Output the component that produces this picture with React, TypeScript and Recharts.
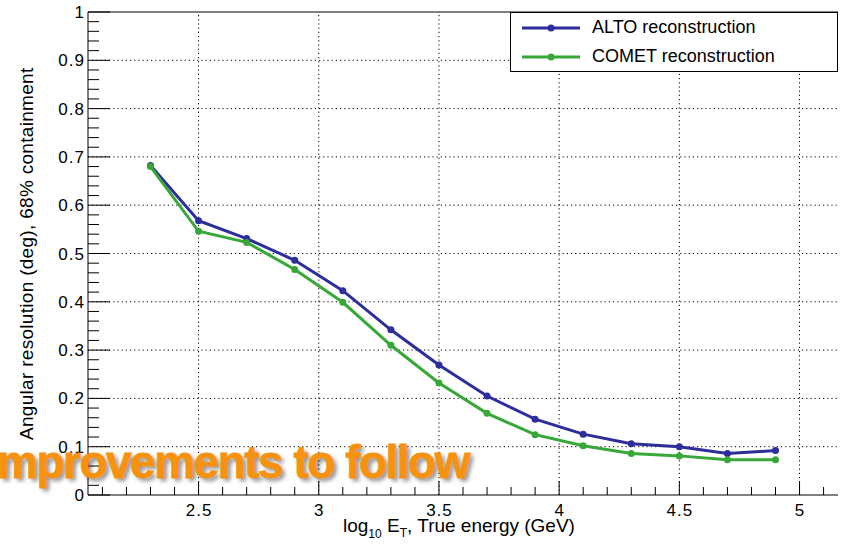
import { LineChart, Line, XAxis, YAxis, ReferenceLine } from "recharts";

// log10 of true energy (GeV)
const energies = [2.3, 2.5, 2.7, 2.9, 3.1, 3.3, 3.5, 3.7, 3.9, 4.1, 4.3, 4.5, 4.7, 4.9];
// 68% containment angular resolution (deg)
const alto = [0.682, 0.568, 0.531, 0.486, 0.423, 0.342, 0.269, 0.205, 0.157, 0.126, 0.106, 0.1, 0.086, 0.092];
const comet = [0.68, 0.546, 0.523, 0.467, 0.399, 0.31, 0.232, 0.169, 0.125, 0.102, 0.086, 0.081, 0.073, 0.073];

const xTicks = [
  2.1, 2.2, 2.3, 2.4, 2.5, 2.6, 2.7, 2.8, 2.9, 3, 3.1, 3.2, 3.3, 3.4, 3.5, 3.6,
  3.7, 3.8, 3.9, 4, 4.1, 4.2, 4.3, 4.4, 4.5, 4.6, 4.7, 4.8, 4.9, 5, 5.1,
];
const xMajor = [2.5, 3, 3.5, 4, 4.5, 5];
const yTicks = [
  0, 0.02, 0.04, 0.06, 0.08, 0.1, 0.12, 0.14, 0.16, 0.18, 0.2, 0.22, 0.24, 0.26,
  0.28, 0.3, 0.32, 0.34, 0.36, 0.38, 0.4, 0.42, 0.44, 0.46, 0.48, 0.5, 0.52,
  0.54, 0.56, 0.58, 0.6, 0.62, 0.64, 0.66, 0.68, 0.7, 0.72, 0.74, 0.76, 0.78,
  0.8, 0.82, 0.84, 0.86, 0.88, 0.9, 0.92, 0.94, 0.96, 0.98, 1,
];
const yMajor = [0, 0.1, 0.2, 0.3, 0.4, 0.5, 0.6, 0.7, 0.8, 0.9, 1];
const yGrid = [0.1, 0.2, 0.3, 0.4, 0.5, 0.6, 0.7, 0.8, 0.9];

const series = [
  { key: "alto", name: "ALTO reconstruction", color: "#2d2d9c" },
  { key: "comet", name: "COMET reconstruction", color: "#37a837" },
];

const data = energies.map((e, i) => ({ e, alto: alto[i], comet: comet[i] }));

const W = 844;
const H = 544;
const PLOT_LEFT = 88;
const PLOT_BOTTOM = 495;
const FONT = '"Liberation Sans", Arial, Helvetica, sans-serif';

function XTick(props: any) {
  const { x, payload } = props;
  const major = xMajor.includes(payload.value);
  return (
    <g>
      <line x1={x} x2={x} y1={PLOT_BOTTOM} y2={PLOT_BOTTOM - (major ? 14 : 8)} stroke="#000" strokeWidth={1} />
      {major && (
        <text x={x + 0.5} y={516} textAnchor="middle" fontSize={17} letterSpacing={1} fill="#000" fontFamily={FONT}>
          {payload.value}
        </text>
      )}
    </g>
  );
}

function YTick(props: any) {
  const { y, payload } = props;
  const major = yMajor.includes(payload.value);
  return (
    <g>
      <line x1={PLOT_LEFT} x2={PLOT_LEFT + (major ? 22 : 11)} y1={y} y2={y} stroke="#000" strokeWidth={1} />
      {major && (
        <text x={85} y={y + 6} textAnchor="end" fontSize={17} letterSpacing={1} fill="#000" fontFamily={FONT}>
          {String(payload.value)}
        </text>
      )}
    </g>
  );
}

export default function App() {
  return (
    <div style={{ position: "absolute", left: 0, top: 0, width: W, height: H, background: "#fff", fontFamily: FONT, overflow: "hidden" }}>
      <LineChart width={W} height={H} data={data} margin={{ top: 12, right: 6, bottom: 9, left: 8 }}>
        <XAxis
          dataKey="e"
          type="number"
          domain={[2.04, 5.16]}
          ticks={xTicks}
          interval={0}
          tick={<XTick />}
          tickLine={false}
          axisLine={{ stroke: "#000", strokeWidth: 1 }}
          height={40}
          allowDataOverflow
        />
        <YAxis
          type="number"
          domain={[0, 1]}
          ticks={yTicks}
          interval={0}
          tick={<YTick />}
          tickLine={false}
          axisLine={{ stroke: "#000", strokeWidth: 1 }}
          width={80}
          allowDataOverflow
        />
        {xMajor.map((v) => (
          <ReferenceLine key={"gx" + v} x={v} stroke="#000" strokeWidth={1} strokeDasharray="1.2 3" />
        ))}
        {yGrid.map((v) => (
          <ReferenceLine key={"gy" + v} y={v} stroke="#000" strokeWidth={1} strokeDasharray="1.2 3" />
        ))}
        <ReferenceLine y={1} stroke="#000" strokeWidth={1} />
        {series.map((s) => (
          <Line
            key={s.key}
            type="linear"
            dataKey={s.key}
            name={s.name}
            stroke={s.color}
            strokeWidth={3}
            dot={{ r: 3.5, fill: s.color, stroke: s.color, strokeWidth: 0 }}
            isAnimationActive={false}
          />
        ))}
      </LineChart>

      {/* legend */}
      <div
        style={{
          position: "absolute",
          left: 510,
          top: 12,
          width: 328,
          height: 60,
          boxSizing: "border-box",
          border: "1px solid #000",
          background: "#fff",
        }}
      >
        {series.map((s) => (
          <div key={s.key} style={{ position: "relative", height: 29 }}>
            <svg width={60} height={10} style={{ position: "absolute", left: 11, top: 10 }}>
              <line x1={0} x2={58} y1={5} y2={5} stroke={s.color} strokeWidth={3} />
              <circle cx={29} cy={5} r={3.5} fill={s.color} />
            </svg>
            <span style={{ position: "absolute", left: 81, top: 4, fontSize: 18, lineHeight: "20px", whiteSpace: "nowrap" }}>
              {s.name}
            </span>
          </div>
        ))}
      </div>

      {/* y axis title */}
      <div
        style={{
          position: "absolute",
          left: 17,
          top: 440,
          transformOrigin: "left top",
          transform: "rotate(-90deg)",
          fontSize: 19,
          lineHeight: "20px",
          whiteSpace: "nowrap",
          letterSpacing: 0.3,
        }}
      >
        Angular resolution (deg), 68% containment
      </div>

      {/* x axis title */}
      <div style={{ position: "absolute", left: 343, top: 516, fontSize: 19, lineHeight: "19px", whiteSpace: "nowrap" }}>
        log<span style={{ fontSize: 12, verticalAlign: -6 }}>10</span> E<span style={{ fontSize: 12, verticalAlign: -5 }}>T</span>, True energy (GeV)
      </div>

      {/* overlay note */}
      <div
        style={{
          position: "absolute",
          left: -3,
          top: 439,
          fontSize: 46,
          lineHeight: "46px",
          fontWeight: 700,
          letterSpacing: -1.5,
          color: "#f7920f",
          WebkitTextStroke: "0.8px #f7920f",
          whiteSpace: "nowrap",
          textShadow: "3px 3px 4px rgba(0,0,0,0.45)",
        }}
      >
        mprovements to follow
      </div>
    </div>
  );
}
